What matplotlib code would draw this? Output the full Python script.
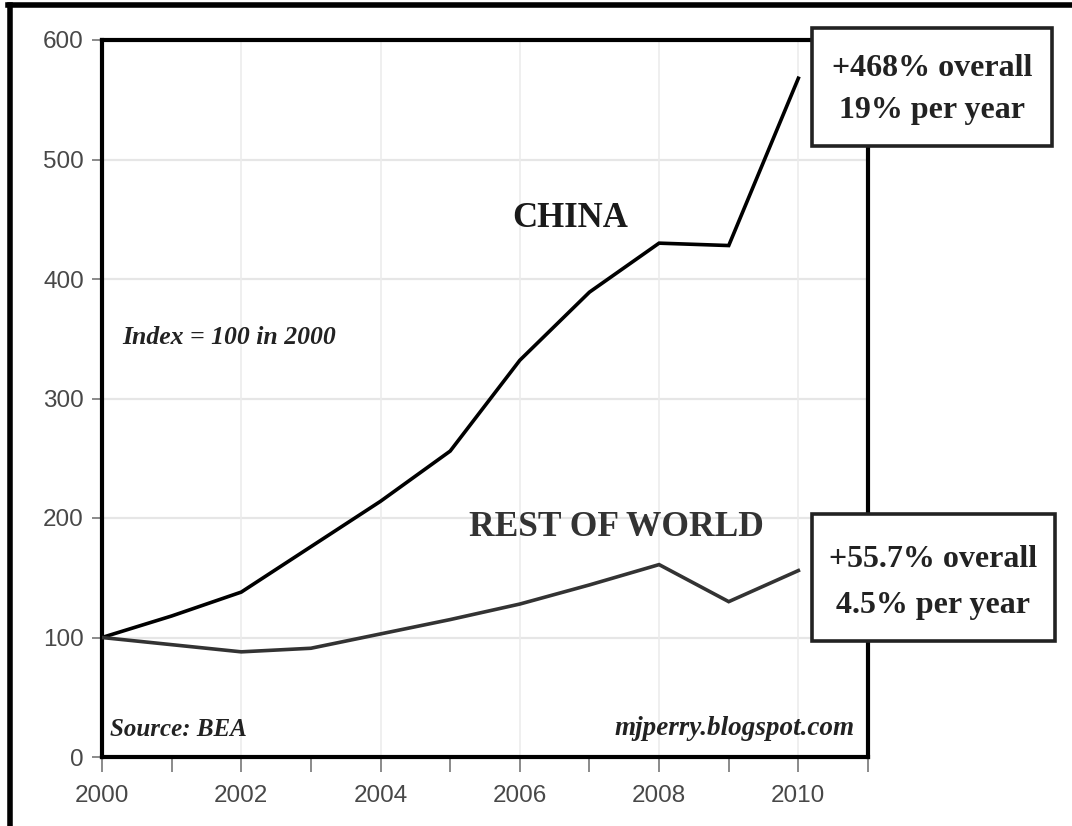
import matplotlib
matplotlib.use("Agg")
import matplotlib.pyplot as plt
from matplotlib.patches import Rectangle
from matplotlib.lines import Line2D

# data (index, 2000 = 100)
years = [2000, 2001, 2002, 2003, 2004, 2005, 2006, 2007, 2008, 2009, 2010]
china = [100, 118, 138, 176, 214, 256, 332, 389, 430, 428, 568]
rest_of_world = [100, 94, 88, 91, 103, 115, 128, 144, 161, 130, 156]

tick_years = list(range(2000, 2012))
tick_labels = [str(y) if y % 2 == 0 and y <= 2010 else "" for y in tick_years]
y_ticks = [0, 100, 200, 300, 400, 500, 600]

china_box = ["+468% overall", "19% per year"]
row_box = ["+55.7% overall", "4.5% per year"]

SANS = ["Liberation Sans Narrow", "Liberation Sans", "DejaVu Sans"]
SERIF = ["Liberation Serif", "DejaVu Serif"]

fig = plt.figure(figsize=(10.72, 8.26), dpi=100)
W, H = 1072, 826


def fx(px):
    return px / W


def fy(py):
    return 1 - py / H


ax = fig.add_axes([fx(102), fy(757), fx(868) - fx(102), fy(40) - fy(757)])

ax.plot(years, china, color="black", lw=2.6, solid_joinstyle="miter", zorder=3)
ax.plot(years, rest_of_world, color="#333333", lw=2.6, solid_joinstyle="miter", zorder=3)

ax.set_xlim(2000, 2011)
ax.set_ylim(0, 600)
ax.set_yticks(y_ticks)
ax.set_yticklabels([str(v) for v in y_ticks], family=SANS, fontsize=17.5, color="#484848")
ax.set_xticks(tick_years)
ax.set_xticklabels(tick_labels, family=SANS, fontsize=17.5, color="#484848")
ax.tick_params(axis="x", length=11, width=1.2, color="#777777", pad=9)
ax.tick_params(axis="y", length=7, width=1.2, color="#777777", pad=6)

# light grid
for v in y_ticks[1:-1]:
    ax.axhline(v, color="#e6e6e6", lw=1.6, zorder=1)
for y in range(2002, 2011, 2):
    ax.axvline(y, color="#ececec", lw=1.2, zorder=1)

for s in ax.spines.values():
    s.set_linewidth(3)
    s.set_color("black")

ax.text(2006.72, 451, "CHINA", family=SERIF, fontweight="bold", fontsize=25,
        ha="center", va="center", color="#1a1a1a")
ax.text(2007.39, 192, "REST OF WORLD", family=SERIF, fontweight="bold", fontsize=25.5,
        ha="center", va="center", color="#333333")
ax.text(0.026, 0.585, "Index = 100 in 2000", transform=ax.transAxes, family=SERIF,
        fontweight="bold", style="italic", fontsize=18.5, ha="left", va="center",
        color="#222222")
ax.text(0.011, 0.038, "Source: BEA", transform=ax.transAxes, family=SERIF,
        fontweight="bold", style="italic", fontsize=18, ha="left", va="center",
        color="#222222")
ax.text(0.982, 0.04, "mjperry.blogspot.com", transform=ax.transAxes, family=SERIF,
        fontweight="bold", style="italic", fontsize=19.5, ha="right", va="center",
        color="#222222")

# callout boxes on the right
for (x0, y0, x1, y1), lines, bases in [
    ((812, 28, 1052, 146), china_box, (76, 118)),
    ((812, 514, 1055, 641), row_box, (567, 613)),
]:
    fig.patches.append(Rectangle((fx(x0), fy(y1)), fx(x1) - fx(x0), fy(y0) - fy(y1),
                                 transform=fig.transFigure, facecolor="white",
                                 edgecolor="#222222", lw=2.6, zorder=5))
    for txt, b in zip(lines, bases):
        fig.text(fx((x0 + x1) / 2), fy(b), txt, family=SERIF, fontweight="bold",
                 fontsize=23, ha="center", va="baseline", color="#222222", zorder=6)

# outer frame (left and top only)
fig.add_artist(Line2D([fx(10), fx(10)], [0, fy(5)], color="black", lw=4))
fig.add_artist(Line2D([fx(8), 1], [fy(5), fy(5)], color="black", lw=4))

fig.savefig("out.png", dpi=100)
